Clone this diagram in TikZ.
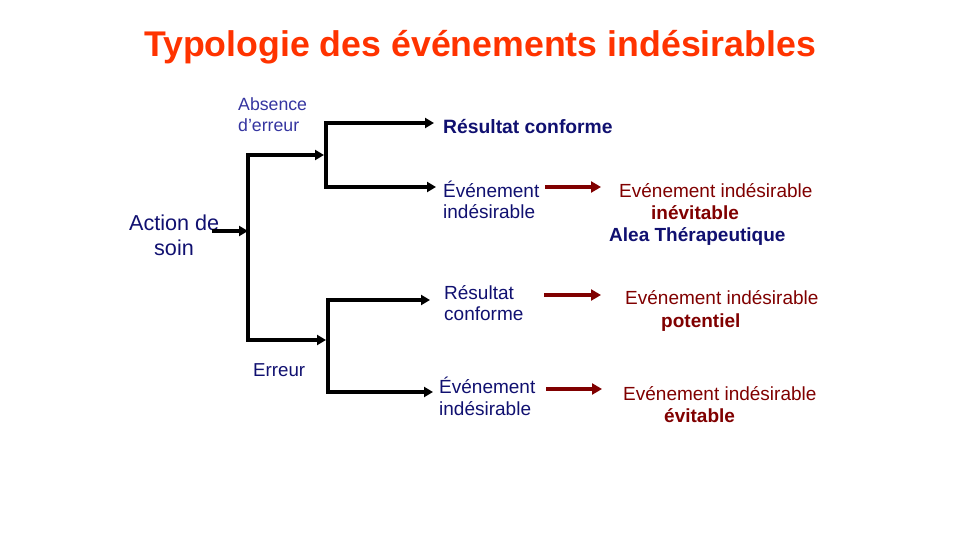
\documentclass[tikz,border=0pt]{standalone}
\usepackage{fontspec}
\setmainfont{Liberation Sans}
\usetikzlibrary{arrows.meta}

\definecolor{navy}{HTML}{101070}
\definecolor{softblue}{HTML}{3535A0}
\definecolor{maroon}{HTML}{800000}
\definecolor{titlered}{HTML}{FF3300}

\tikzset{
  lbl/.style={inner sep=0pt, anchor=base west, text=navy},
  outcome/.style={inner sep=0pt, anchor=base west, text=maroon},
  tree/.style={line width=4pt, line join=miter, draw=black},
  tip/.style={-{Triangle[length=9pt,width=10pt]}},
  dtip/.style={{Triangle[length=9pt,width=10pt]}-{Triangle[length=9pt,width=10pt]}},
  redarrow/.style={line width=4pt, draw=maroon, -{Triangle[length=10pt,width=11pt]}},
  fs/.style={font=\fontsize{#1}{#1}\selectfont},
  fsb/.style={font=\fontsize{#1}{#1}\selectfont\bfseries}
}

\begin{document}
\begin{tikzpicture}[x=1pt, y=-1pt]
  \useasboundingbox (0,0) rectangle (960,540);

  % title
  \node[inner sep=0pt, anchor=base, text=titlered, fsb=35.7]
    (title) at (480,57) {Typologie des événements indésirables};

  % root and branch labels
  \node[lbl, fs=21.6] (act1) at (129,230) {Action de};
  \node[lbl, fs=21.6, anchor=base] (act2) at (174,255) {soin};
  \node[lbl, fs=17.7, text=softblue] (abs1) at (238,111) {Absence};
  \node[lbl, fs=17.7, text=softblue] (abs2) at (238,132) {d’erreur};
  \node[lbl, fs=18.7] (err) at (253,376) {Erreur};

  % leaves
  \node[lbl, fsb=19.3] (res1) at (443,134) {Résultat conforme};
  \node[lbl, fs=19] (ev1a) at (443,197) {Événement};
  \node[lbl, fs=19] (ev1b) at (443,218) {indésirable};
  \node[lbl, fs=19] (res2a) at (444,299) {Résultat};
  \node[lbl, fs=19] (res2b) at (444,320) {conforme};
  \node[lbl, fs=19] (ev2a) at (439,393) {Événement};
  \node[lbl, fs=19] (ev2b) at (439,415) {indésirable};

  % outcomes
  \node[outcome, fs=19] (o1a) at (619,197) {Evénement indésirable};
  \node[outcome, fsb=19] (o1b) at (651,219) {inévitable};
  \node[lbl, fsb=19] (o1c) at (609,241) {Alea Thérapeutique};
  \node[outcome, fs=19] (o2a) at (625,304) {Evénement indésirable};
  \node[outcome, fsb=19] (o2b) at (661,327) {potentiel};
  \node[outcome, fs=19] (o3a) at (623,400) {Evénement indésirable};
  \node[outcome, fsb=19] (o3b) at (664,422) {évitable};

  % tree joints
  \coordinate (a0) at (212,231);
  \coordinate (j0) at (248,231);
  \coordinate (uin) at (324,155);
  \coordinate (ujoint) at (326,155);
  \coordinate (lin) at (326,340);
  \coordinate (ljoint) at (328,340);
  \coordinate (ut) at (434,123);
  \coordinate (ub) at (436,187);
  \coordinate (lt) at (430,300);
  \coordinate (lb) at (433,392);

  % root arrow and main fork
  \draw[tree, tip] (a0) -- (j0);
  \draw[tree, line width=3.5pt, dtip] (uin) -| (j0) |- (lin);

  % upper and lower forks
  \draw[tree, dtip] (ut) -| (ujoint) |- (ub);
  \draw[tree, dtip] (lt) -| (ljoint) |- (lb);

  % consequence arrows
  \coordinate (r1s) at (545,187);  \coordinate (r1e) at (601,187);
  \coordinate (r2s) at (544,295);  \coordinate (r2e) at (601,295);
  \coordinate (r3s) at (546,389);  \coordinate (r3e) at (602,389);
  \draw[redarrow] (r1s) -- (r1e);
  \draw[redarrow] (r2s) -- (r2e);
  \draw[redarrow] (r3s) -- (r3e);
\end{tikzpicture}
\end{document}
